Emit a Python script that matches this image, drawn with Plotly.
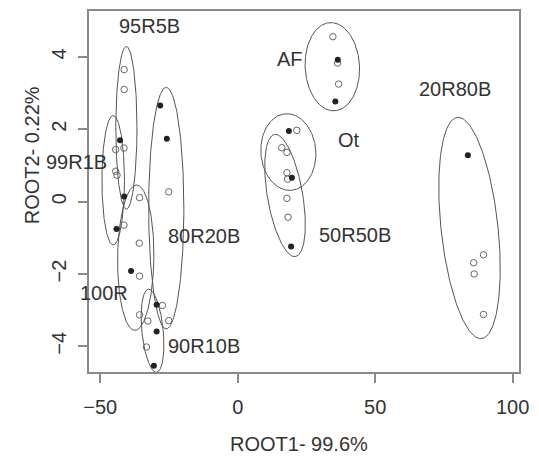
import numpy as np
import plotly.graph_objects as go

# ---- data ----
filled_x = [-42.8, -28.2, -25.8, -41.3, -44.1, -38.8, -29.5, -29.5, -30.5,
            36.4, 35.5, 18.6, 19.7, 19.4, 83.7]
filled_y = [1.70, 2.66, 1.74, 0.14, -0.76, -1.92, -2.85, -3.59, -4.54,
            3.92, 2.77, 1.95, 0.66, -1.24, 1.28]

open_x = [-41.3, -41.3,
          -44.4, -41.4, -44.4, -43.9, -41.4,
          -35.7, -35.8, -35.7,
          -25.1, -27.4, -25.1,
          -35.7, -32.7, -33.2,
          34.6, 36.3, 36.7,
          21.5, 16.0, 17.9, 17.9, 18.1, 17.9, 18.3,
          89.4, 85.8, 86.0, 89.4]
open_y = [3.65, 3.10,
          1.44, 1.48, 0.84, 0.73, -0.65,
          0.11, -1.15, -2.06,
          0.27, -2.87, -3.29,
          -3.13, -3.30, -4.02,
          4.56, 3.83, 3.25,
          1.97, 1.49, 1.36, 0.80, 0.62, 0.09, -0.43,
          -1.47, -1.69, -2.00, -3.12]

# group ellipses: centre, half-width, half-height, top offset (data units)
groups = ["99R1B", "95R5B", "80R20B", "100R", "90R10B", "AF", "Ot", "50R50B", "20R80B"]
ell_cx = [-45.3, -40.5, -26.0, -37.1, -31.0, 34.4, 18.4, 17.2, 84.3]
ell_cy = [0.59, 2.04, -0.18, -1.55, -3.57, 3.73, 1.37, 0.17, -0.73]
ell_rx = [4.1, 3.85, 6.4, 6.6, 3.9, 9.9, 10.0, 6.5, 10.4]
ell_ry = [1.79, 2.25, 3.34, 2.01, 1.15, 1.22, 1.06, 1.69, 3.06]
ell_dx = [0.0, 0.0, 0.0, 0.3, -1.4, -0.5, -0.5, -3.5, -4.1]

# group labels
label_text = ["99R1B", "95R5B", "80R20B", "100R", "90R10B", "AF", "Ot", "50R50B", "20R80B"]
label_x = [-58.5, -32.0, -12.2, -48.7, -12.2, 19.0, 40.4, 42.6, 79.0]
label_y = [1.10, 4.85, -0.94, -2.53, -4.00, 3.94, 1.70, -0.92, 3.10]

x_ticks = [-50, 0, 50, 100]
y_ticks = [-4, -2, 0, 2, 4]
x_range = [-54.1, 102.3]
y_range = [-4.71, 5.27]

FONT = "Liberation Sans, Arial, sans-serif"
TXT = "#333333"
AX = "#8a8a8a"

fig = go.Figure()

t = np.linspace(0, 2 * np.pi, 200)
for cx, cy, rx, ry, dx in zip(ell_cx, ell_cy, ell_rx, ell_ry, ell_dx):
    fig.add_trace(go.Scatter(
        x=cx + rx * np.cos(t) + dx * np.sin(t),
        y=cy + ry * np.sin(t),
        mode="lines", line=dict(color="#555555", width=1),
        hoverinfo="skip", showlegend=False))

fig.add_trace(go.Scatter(
    x=open_x, y=open_y, mode="markers",
    marker=dict(symbol="circle-open", size=6.5, color="#666666", line=dict(width=1)),
    showlegend=False))
fig.add_trace(go.Scatter(
    x=filled_x, y=filled_y, mode="markers",
    marker=dict(symbol="circle", size=6, color="#222222"),
    showlegend=False))

for txt, lx, ly in zip(label_text, label_x, label_y):
    # labels may sit outside the axis range (R does not clip text), so place them
    # in paper coordinates derived from the axis ranges
    px = (lx - x_range[0]) / (x_range[1] - x_range[0])
    py = (ly - y_range[0]) / (y_range[1] - y_range[0])
    fig.add_annotation(xref="paper", yref="paper", x=px, y=py, text=txt, showarrow=False,
                       xanchor="center", yanchor="middle",
                       font=dict(family=FONT, size=20, color=TXT))

fig.add_annotation(xref="paper", yref="paper", x=0.4885, y=-0.2,
                   text="ROOT1- 99.6%", showarrow=False,
                   xanchor="center", yanchor="middle", borderpad=0,
                   font=dict(family=FONT, size=20, color=TXT))
fig.add_annotation(xref="paper", yref="paper", x=-0.132, y=0.601,
                   text="ROOT2- 0.22%", showarrow=False, textangle=-90,
                   xanchor="center", yanchor="middle",
                   font=dict(family=FONT, size=20, color=TXT))

fig.update_layout(
    width=539, height=459,
    margin=dict(l=89.3, r=14.3, t=9.3, b=87.3),
    plot_bgcolor="white", paper_bgcolor="white",
    font=dict(family=FONT, size=20, color=TXT),
)
fig.update_xaxes(range=x_range, tickvals=x_ticks, showgrid=False, zeroline=False,
                 showline=True, mirror=True, linecolor=AX, linewidth=1.5,
                 ticks="outside", ticklen=9, tickcolor=AX, tickwidth=1.5,
                 ticklabelstandoff=7, tickfont=dict(size=20, color=TXT))
fig.update_yaxes(range=y_range, tickvals=y_ticks, showgrid=False, zeroline=False,
                 showline=True, mirror=True, linecolor=AX, linewidth=1.5,
                 ticks="outside", ticklen=9, tickcolor=AX, tickwidth=1.5,
                 tickangle=-90, ticklabelstandoff=4, tickfont=dict(size=20, color=TXT))

fig.write_html("out.html")
